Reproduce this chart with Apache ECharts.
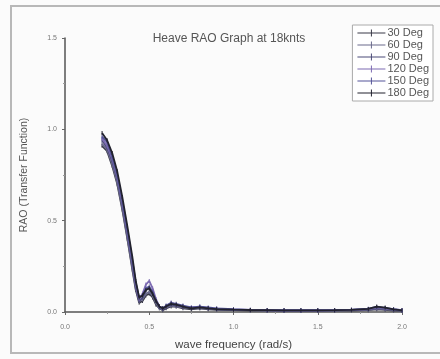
<!DOCTYPE html>
<html>
<head>
<meta charset="utf-8">
<script src="https://cdn.jsdelivr.net/npm/echarts@6/dist/echarts.min.js"></script>
<style>
  html, body { margin: 0; padding: 0; background: #eeeeee; }
  #main { width: 440px; height: 359px; }
</style>
</head>
<body>
<div id="main"></div>
<script>
// wave frequency (rad/s)
var freq = [0.22, 0.25, 0.28, 0.31, 0.34, 0.37, 0.40, 0.42, 0.44, 0.46, 0.48, 0.50, 0.52, 0.54, 0.56, 0.58,
  0.60, 0.63, 0.66, 0.70, 0.75, 0.80, 0.85, 0.90, 1.0, 1.1, 1.2, 1.3, 1.4, 1.5, 1.6, 1.7, 1.8, 1.85, 1.9, 1.95, 2.0];

var headings = ['30 Deg', '60 Deg', '90 Deg', '120 Deg', '150 Deg', '180 Deg'];

var rao30 = [0.91, 0.88, 0.80, 0.70, 0.56, 0.40, 0.23, 0.12, 0.05, 0.06, 0.09, 0.10, 0.08, 0.04, 0.02, 0.01,
  0.02, 0.03, 0.03, 0.02, 0.015, 0.02, 0.015, 0.012, 0.01, 0.008, 0.007, 0.006, 0.006, 0.006, 0.007, 0.008, 0.01, 0.015, 0.012, 0.008, 0.006];
var rao60 = [0.92, 0.89, 0.81, 0.71, 0.57, 0.41, 0.24, 0.13, 0.06, 0.07, 0.10, 0.11, 0.09, 0.05, 0.02, 0.015,
  0.025, 0.035, 0.03, 0.025, 0.02, 0.02, 0.018, 0.014, 0.012, 0.01, 0.008, 0.007, 0.007, 0.007, 0.008, 0.01, 0.012, 0.018, 0.015, 0.01, 0.007];
var rao90 = [0.94, 0.90, 0.83, 0.73, 0.59, 0.43, 0.26, 0.14, 0.06, 0.08, 0.12, 0.13, 0.10, 0.06, 0.03, 0.015,
  0.03, 0.04, 0.035, 0.03, 0.02, 0.025, 0.02, 0.015, 0.012, 0.01, 0.009, 0.008, 0.008, 0.008, 0.009, 0.011, 0.014, 0.02, 0.018, 0.012, 0.008];
var rao120 = [0.95, 0.91, 0.84, 0.74, 0.60, 0.44, 0.27, 0.15, 0.07, 0.10, 0.15, 0.17, 0.13, 0.07, 0.03, 0.02,
  0.03, 0.05, 0.04, 0.03, 0.025, 0.03, 0.02, 0.018, 0.014, 0.012, 0.01, 0.009, 0.009, 0.009, 0.01, 0.012, 0.016, 0.025, 0.02, 0.014, 0.01];
var rao150 = [0.96, 0.93, 0.85, 0.75, 0.61, 0.45, 0.28, 0.16, 0.08, 0.09, 0.13, 0.14, 0.11, 0.06, 0.03, 0.02,
  0.035, 0.05, 0.045, 0.035, 0.025, 0.03, 0.025, 0.02, 0.015, 0.012, 0.01, 0.01, 0.01, 0.01, 0.011, 0.013, 0.018, 0.028, 0.022, 0.015, 0.01];
var rao180 = [0.98, 0.94, 0.87, 0.77, 0.63, 0.47, 0.30, 0.17, 0.08, 0.09, 0.12, 0.13, 0.10, 0.06, 0.03, 0.02,
  0.03, 0.045, 0.04, 0.03, 0.02, 0.025, 0.02, 0.016, 0.013, 0.011, 0.01, 0.009, 0.009, 0.009, 0.01, 0.012, 0.017, 0.03, 0.024, 0.014, 0.009];

var raoSets = [rao30, rao60, rao90, rao120, rao150, rao180];
var colors = ['#3a3a48', '#6a6a8c', '#4b4b78', '#7d6bb2', '#555599', '#22222e'];

var chart = echarts.init(document.getElementById('main'));

function pairs(ys) {
  return freq.map(function (x, i) { return [x, ys[i]]; });
}

// line with a small cross tick, like the legend keys of the original
var keyIcon = 'path://M0,4h28v1h-28z M13.5,1h1v7h-1z';

var series = headings.map(function (name, i) {
  return {
    name: name,
    type: 'line',
    data: pairs(raoSets[i]),
    symbol: 'rect',
    symbolSize: [1, 4],
    lineStyle: { width: 1.8, color: colors[i] },
    itemStyle: { color: colors[i] },
    z: 2 + i
  };
});

var option = {
  backgroundColor: '#fbfbfb',
  animation: false,
  textStyle: { fontFamily: 'Liberation Sans' },
  title: {
    text: 'Heave RAO Graph at 18knts',
    left: 224,
    top: 28,
    textAlign: 'center',
    textStyle: { fontSize: 12, fontWeight: 'normal', color: '#555' }
  },
  legend: {
    data: headings.map(function (h) { return { name: h, icon: keyIcon }; }),
    orient: 'vertical',
    right: 7,
    top: 25,
    padding: [2, 4, 2, 5],
    itemGap: 0,
    itemWidth: 28,
    itemHeight: 8,
    borderColor: '#aaa',
    borderWidth: 1,
    backgroundColor: '#fff',
    textStyle: { fontSize: 11, lineHeight: 12, color: '#555', padding: [0, 0, 0, -3] }
  },
  grid: { left: 65, right: 38, top: 38, bottom: 47 },
  xAxis: {
    type: 'value',
    min: 0,
    max: 2,
    interval: 0.5,
    name: 'wave frequency (rad/s)',
    nameLocation: 'middle',
    nameGap: 27,
    nameTextStyle: { fontSize: 11.5, color: '#444' },
    axisLine: { lineStyle: { color: '#555', width: 1.5 } },
    axisTick: { show: true, length: 3, lineStyle: { color: '#666' } },
    minorTick: { show: true, splitNumber: 2, length: 2, lineStyle: { color: '#999' } },
    axisLabel: { fontSize: 7, color: '#777', margin: 12, formatter: function (v) { return v.toFixed(1); } },
    splitLine: { show: false }
  },
  yAxis: {
    type: 'value',
    min: 0,
    max: 1.5,
    interval: 0.5,
    name: 'RAO (Transfer Function)',
    nameLocation: 'middle',
    nameGap: 35,
    nameTextStyle: { fontSize: 10.5, color: '#555' },
    axisLine: { show: true, lineStyle: { color: '#555', width: 1.5 } },
    axisTick: { show: true, length: 3, lineStyle: { color: '#666' } },
    minorTick: { show: true, splitNumber: 2, length: 2, lineStyle: { color: '#999' } },
    axisLabel: { fontSize: 7, color: '#777', margin: 8, formatter: function (v) { return v.toFixed(1); } },
    splitLine: { show: false }
  },
  graphic: [{
    type: 'rect',
    shape: { x: 11, y: 6, width: 440, height: 347 },
    style: { fill: null, stroke: '#b8b8b8', lineWidth: 2 },
    silent: true,
    z: -1
  }],
  series: series
};

chart.setOption(option);
</script>
</body>
</html>
